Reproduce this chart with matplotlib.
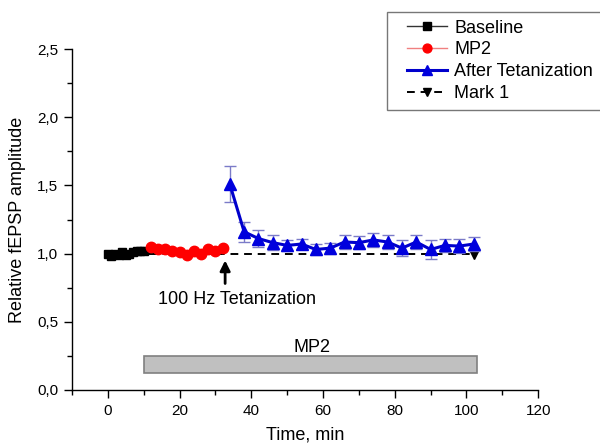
import matplotlib
matplotlib.use("Agg")
import matplotlib.pyplot as plt
from matplotlib.ticker import MultipleLocator, FuncFormatter
from matplotlib.patches import Rectangle
from matplotlib.legend_handler import HandlerLine2D

plt.rcParams['font.family'] = ['Liberation Sans', 'DejaVu Sans']

# Data
baseline_x = [0, 1, 2, 3, 4, 5, 6, 7, 8, 9, 10]
baseline_y = [1.0, 0.98, 1.0, 0.99, 1.01, 0.99, 1.0, 1.01, 1.02, 1.02, 1.02]

mp2_x = [12, 14, 16, 18, 20, 22, 24, 26, 28, 30, 32]
mp2_y = [1.05, 1.03, 1.03, 1.02, 1.01, 0.99, 1.02, 1.0, 1.03, 1.02, 1.04]

tet_x = [34, 38, 42, 46, 50, 54, 58, 62, 66, 70, 74, 78, 82, 86, 90, 94, 98, 102]
tet_y = [1.51, 1.16, 1.11, 1.08, 1.06, 1.07, 1.03, 1.04, 1.085, 1.08,
         1.10, 1.085, 1.04, 1.085, 1.03, 1.06, 1.055, 1.07]
tet_err = [0.13, 0.075, 0.065, 0.055, 0.04, 0.04, 0.04, 0.04, 0.05, 0.05,
           0.05, 0.05, 0.06, 0.05, 0.07, 0.05, 0.05, 0.05]

mark_x = [0, 102]
mark_y = [1.0, 1.0]

bar_start, bar_end = 10, 103
bar_low, bar_high = 0.125, 0.25

fig = plt.figure(figsize=(6.0, 4.43), dpi=100)
ax = fig.add_axes([0.12, 0.12, 0.777, 0.769])

# Mark 1 dashed line
ax.plot(mark_x, mark_y, color='black', linestyle=(0, (4, 3)), linewidth=1.4,
        marker='v', markersize=7, markevery=[1], label='Mark 1', zorder=2)

ax.plot(baseline_x, baseline_y, color='#333333', linewidth=1.0, marker='s',
        markersize=6, markerfacecolor='black', markeredgecolor='black',
        label='Baseline', zorder=3)

ax.plot(mp2_x, mp2_y, color='#f08080', linewidth=1.0, marker='o',
        markersize=7.5, markerfacecolor='#ff0000', markeredgecolor='#ff0000',
        label='MP2', zorder=3)

ax.errorbar(tet_x, tet_y, yerr=tet_err, fmt='none', ecolor='#7b7bc8',
            elinewidth=1.0, capsize=4, capthick=1.0, zorder=2)
ax.plot(tet_x, tet_y, color='#0000cc', linewidth=2.2, marker='^',
        markersize=8.5, markerfacecolor='#0000dd', markeredgecolor='#0000dd',
        label='After Tetanization', zorder=4)

# Arrow and annotation
ax.annotate('', xy=(32.7, 0.97), xytext=(32.7, 0.76),
            arrowprops=dict(arrowstyle='-|>', color='black', lw=2.0,
                            mutation_scale=15))
ax.text(36, 0.66, '100 Hz Tetanization', ha='center', va='center', fontsize=13)

# MP2 application bar
ax.add_patch(Rectangle((bar_start, bar_low), bar_end - bar_start, bar_high - bar_low,
                       facecolor='#c0c0c0', edgecolor='#808080', linewidth=1.2,
                       zorder=1))
ax.text((bar_start + bar_end) / 2 + 0.5, 0.31, 'MP2', ha='center', va='center', fontsize=13)

ax.set_xlim(-10, 120)
ax.set_ylim(0, 2.5)
ax.xaxis.set_major_locator(MultipleLocator(20))
ax.xaxis.set_minor_locator(MultipleLocator(10))
ax.yaxis.set_major_locator(MultipleLocator(0.5))
ax.yaxis.set_minor_locator(MultipleLocator(0.25))
ax.yaxis.set_major_formatter(FuncFormatter(lambda v, p: f"{v:.1f}".replace('.', ',')))
ax.tick_params(axis='both', which='major', direction='out', length=6, width=1.0,
               labelsize=11, pad=4)
ax.tick_params(axis='both', which='minor', direction='out', length=3.5, width=1.0)
for s in ['top', 'right']:
    ax.spines[s].set_visible(False)
for s in ['left', 'bottom']:
    ax.spines[s].set_linewidth(1.0)

ax.set_xlabel('Time, min', fontsize=13, labelpad=6)
ax.set_ylabel('Relative fEPSP amplitude', fontsize=13, labelpad=8)

handles, labels = ax.get_legend_handles_labels()
order = ['Baseline', 'MP2', 'After Tetanization', 'Mark 1']
hmap = dict(zip(labels, handles))
leg = fig.legend([hmap[o] for o in order], order, loc='upper left',
                 bbox_to_anchor=(0.645, 0.973), bbox_transform=fig.transFigure,
                 fontsize=13, frameon=True, fancybox=False, borderaxespad=0,
                 handlelength=2.9, handletextpad=0.4, labelspacing=0.27,
                 borderpad=0.42, markerscale=0.85,
                 handler_map={h: HandlerLine2D(xpad=0.7) for h in handles})
leg.get_frame().set_edgecolor('#555555')
leg.get_frame().set_linewidth(1.0)

fig.savefig('out.png', dpi=100)
